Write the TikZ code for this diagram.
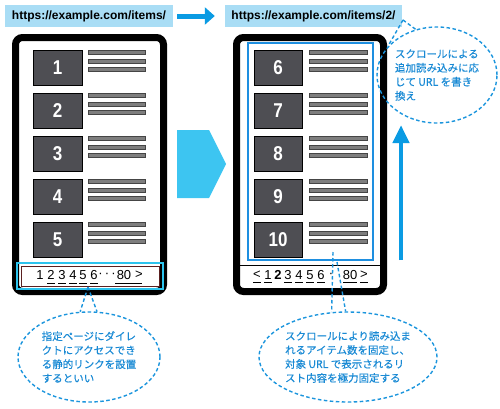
\documentclass[tikz,border=0pt]{standalone}
\usepackage{fontspec}
\setmainfont{Liberation Sans}
\newfontfamily\jp[FakeBold=0.4]{Noto Sans CJK JP}
\usetikzlibrary{shapes.geometric,arrows.meta}
\definecolor{urlfill}{HTML}{A9DDF5}
\definecolor{arrowblue}{HTML}{0A9BE3}
\definecolor{chevcol}{HTML}{3DC5F1}
\definecolor{dashblue}{HTML}{1B95DD}
\definecolor{textblue}{HTML}{1A8AD4}
\definecolor{pagecyan}{HTML}{2CC4EE}
\definecolor{innerblue}{HTML}{1E8FE0}
\definecolor{sqgray}{HTML}{4E4E53}
\definecolor{bargray}{HTML}{7E7E7E}
\definecolor{bardark}{HTML}{454545}
\definecolor{darkred}{HTML}{5A2020}
\begin{document}
\begin{tikzpicture}[x=1pt,y=-1pt,
  urlbox/.style={fill=urlfill,inner sep=0pt,minimum height=22pt,font=\bfseries\fontsize{12}{12}\selectfont},
  bigarrow/.style={draw=arrowblue,line width=5pt,-{Triangle[length=10pt,width=17pt]},shorten <=4pt,shorten >=10pt},
  uparrow/.style={draw=arrowblue,line width=4.5pt,-{Triangle[length=18pt,width=16pt]}},
  phone/.style={draw=black,line width=7pt,rounded corners=7pt,fill=white,inner sep=0pt},
  itemsq/.style={fill=sqgray,draw=black,line width=0.8pt,inner sep=0pt,text=white,font=\bfseries\fontsize{20}{20}\selectfont},
  bar/.style={fill=bargray,draw=bardark,line width=0.5pt},
  callout/.style={ellipse,draw=dashblue,line width=1.4pt,dash pattern=on 3.5pt off 2.5pt,inner sep=0pt,text=textblue,align=left,font=\jp\fontsize{10.5}{14}\selectfont},
  dashline/.style={draw=dashblue,line width=1.4pt,dash pattern=on 3.5pt off 2.5pt},
  pg/.style={inner sep=0pt,font=\fontsize{13}{13}\selectfont},
  uline/.style={draw=black,line width=0.8pt}]
\useasboundingbox (0,0) rectangle (500,408);

% URL bar
\node[urlbox,minimum width=168pt] (url1) at (89,16) {https://example.com/items/};
\node[urlbox,minimum width=177pt] (url2) at (313.5,16) {https://example.com/items/2/};
\draw[bigarrow] (url1) -- (url2);

% phones
\node[phone,minimum width=148pt,minimum height=254pt] (phoneL) at (89.5,164.5) {};
\node[phone,minimum width=147pt,minimum height=254pt] (phoneR) at (310,164.5) {};

% items left
\foreach \k/\n in {0/1,1/2,2/3,3/4,4/5} {
  \node[itemsq,minimum width=49pt,minimum height=35pt] (sqL\n) at (57.5,{67.5+43*\k}) {\scalebox{0.85}[1]{\n}};
  \foreach \d in {2,11,19} {
    \draw[bar] (88,{50+43*\k+\d-2}) rectangle (145,{50+43*\k+\d+2});
  }
}
% items right
\foreach \k/\n in {0/6,1/7,2/8,3/9,4/10} {
  \node[itemsq,minimum width=48pt,minimum height=35pt] (sqR\n) at (278,{67.5+43*\k}) {\scalebox{0.85}[1]{\n}};
  \foreach \d in {2,11,19} {
    \draw[bar] (309,{50+43*\k+\d-2}) rectangle (367,{50+43*\k+\d+2});
  }
}

% right phone: loaded area and separator
\draw[draw=innerblue,line width=2pt] (248,43) rectangle (373,260);
\draw[black,line width=0.8pt] (240,265) -- (380,265);

% left pagination
\draw[draw=pagecyan,line width=2.5pt] (17,263) rectangle (163,289);
\draw[draw=darkred,line width=0.7pt] (21,266.5) rectangle (159,286);
\foreach \c/\x/\nm in {1/40/a,2/51/b,3/62/c,4/73/d,5/83/e,6/94/f,80/124/h,>/139/i} {
  \node[pg] (pL\nm) at (\x,275) {\c};
}
\node[pg] (pLg) at (107,275) {·\,·\,·};
\foreach \a/\b in {47/55,58/66,69/77,79/87,90/98,115/142} {
  \draw[uline] (\a,283) -- (\b,283);
}

% right pagination
\foreach \c/\x/\nm in {</257/a,1/268/b,3/288/d,4/299/e,5/310/f,6/321/g,80/350/h,>/364/i} {
  \node[pg] (pR\nm) at (\x,275) {\c};
}
\node[pg,font=\bfseries\fontsize{13}{13}\selectfont] (pRc) at (278,275) {2};
\node[pg] (pRdot) at (331,275) {·};
\foreach \a/\b in {253/261,264/272,284/292,295/303,306/314,317/325,343/357,360/368} {
  \draw[uline] (\a,282) -- (\b,282);
}

% chevron
\fill[chevcol] (177,130) -- (209,130) -- (226,164) -- (209,198) -- (177,198) -- cycle;

% up arrow
\coordinate (upS) at (401,260);
\coordinate (upE) at (401,125);
\draw[uparrow] (upS) -- (upE);

% callouts
\node[callout,minimum width=142pt,minimum height=90pt] (cl) at (89,357)
  {指定ページにダイレ\\クトにアクセスでき\\る静的リンクを設置\\するといい};
\coordinate (clT) at (88,287);
\draw[dashline] (clT) -- (cl.101);
\draw[dashline] (clT) -- (cl.80);

\node[callout,minimum width=120pt,minimum height=96pt] (cr) at (437,75)
  {スクロールによる\\追加読み込みに応\\じて URL を書き\\換え};
\coordinate (crT) at (403,20);
\draw[dashline] (crT) -- (cr.115);
\draw[dashline] (crT) -- (cr.150);

\node[callout,minimum width=178pt,minimum height=90pt] (cb) at (348,357)
  {スクロールにより読み込ま\\れるアイテム数を固定し、\\対象 URL で表示されるリ\\スト内容を極力固定する};
\coordinate (cbA) at (333,252);
\coordinate (cbB) at (337,262);
\draw[dashline] (cbA) -- (cb.110);
\draw[dashline] (cbB) -- (cb.93);
\end{tikzpicture}
\end{document}
